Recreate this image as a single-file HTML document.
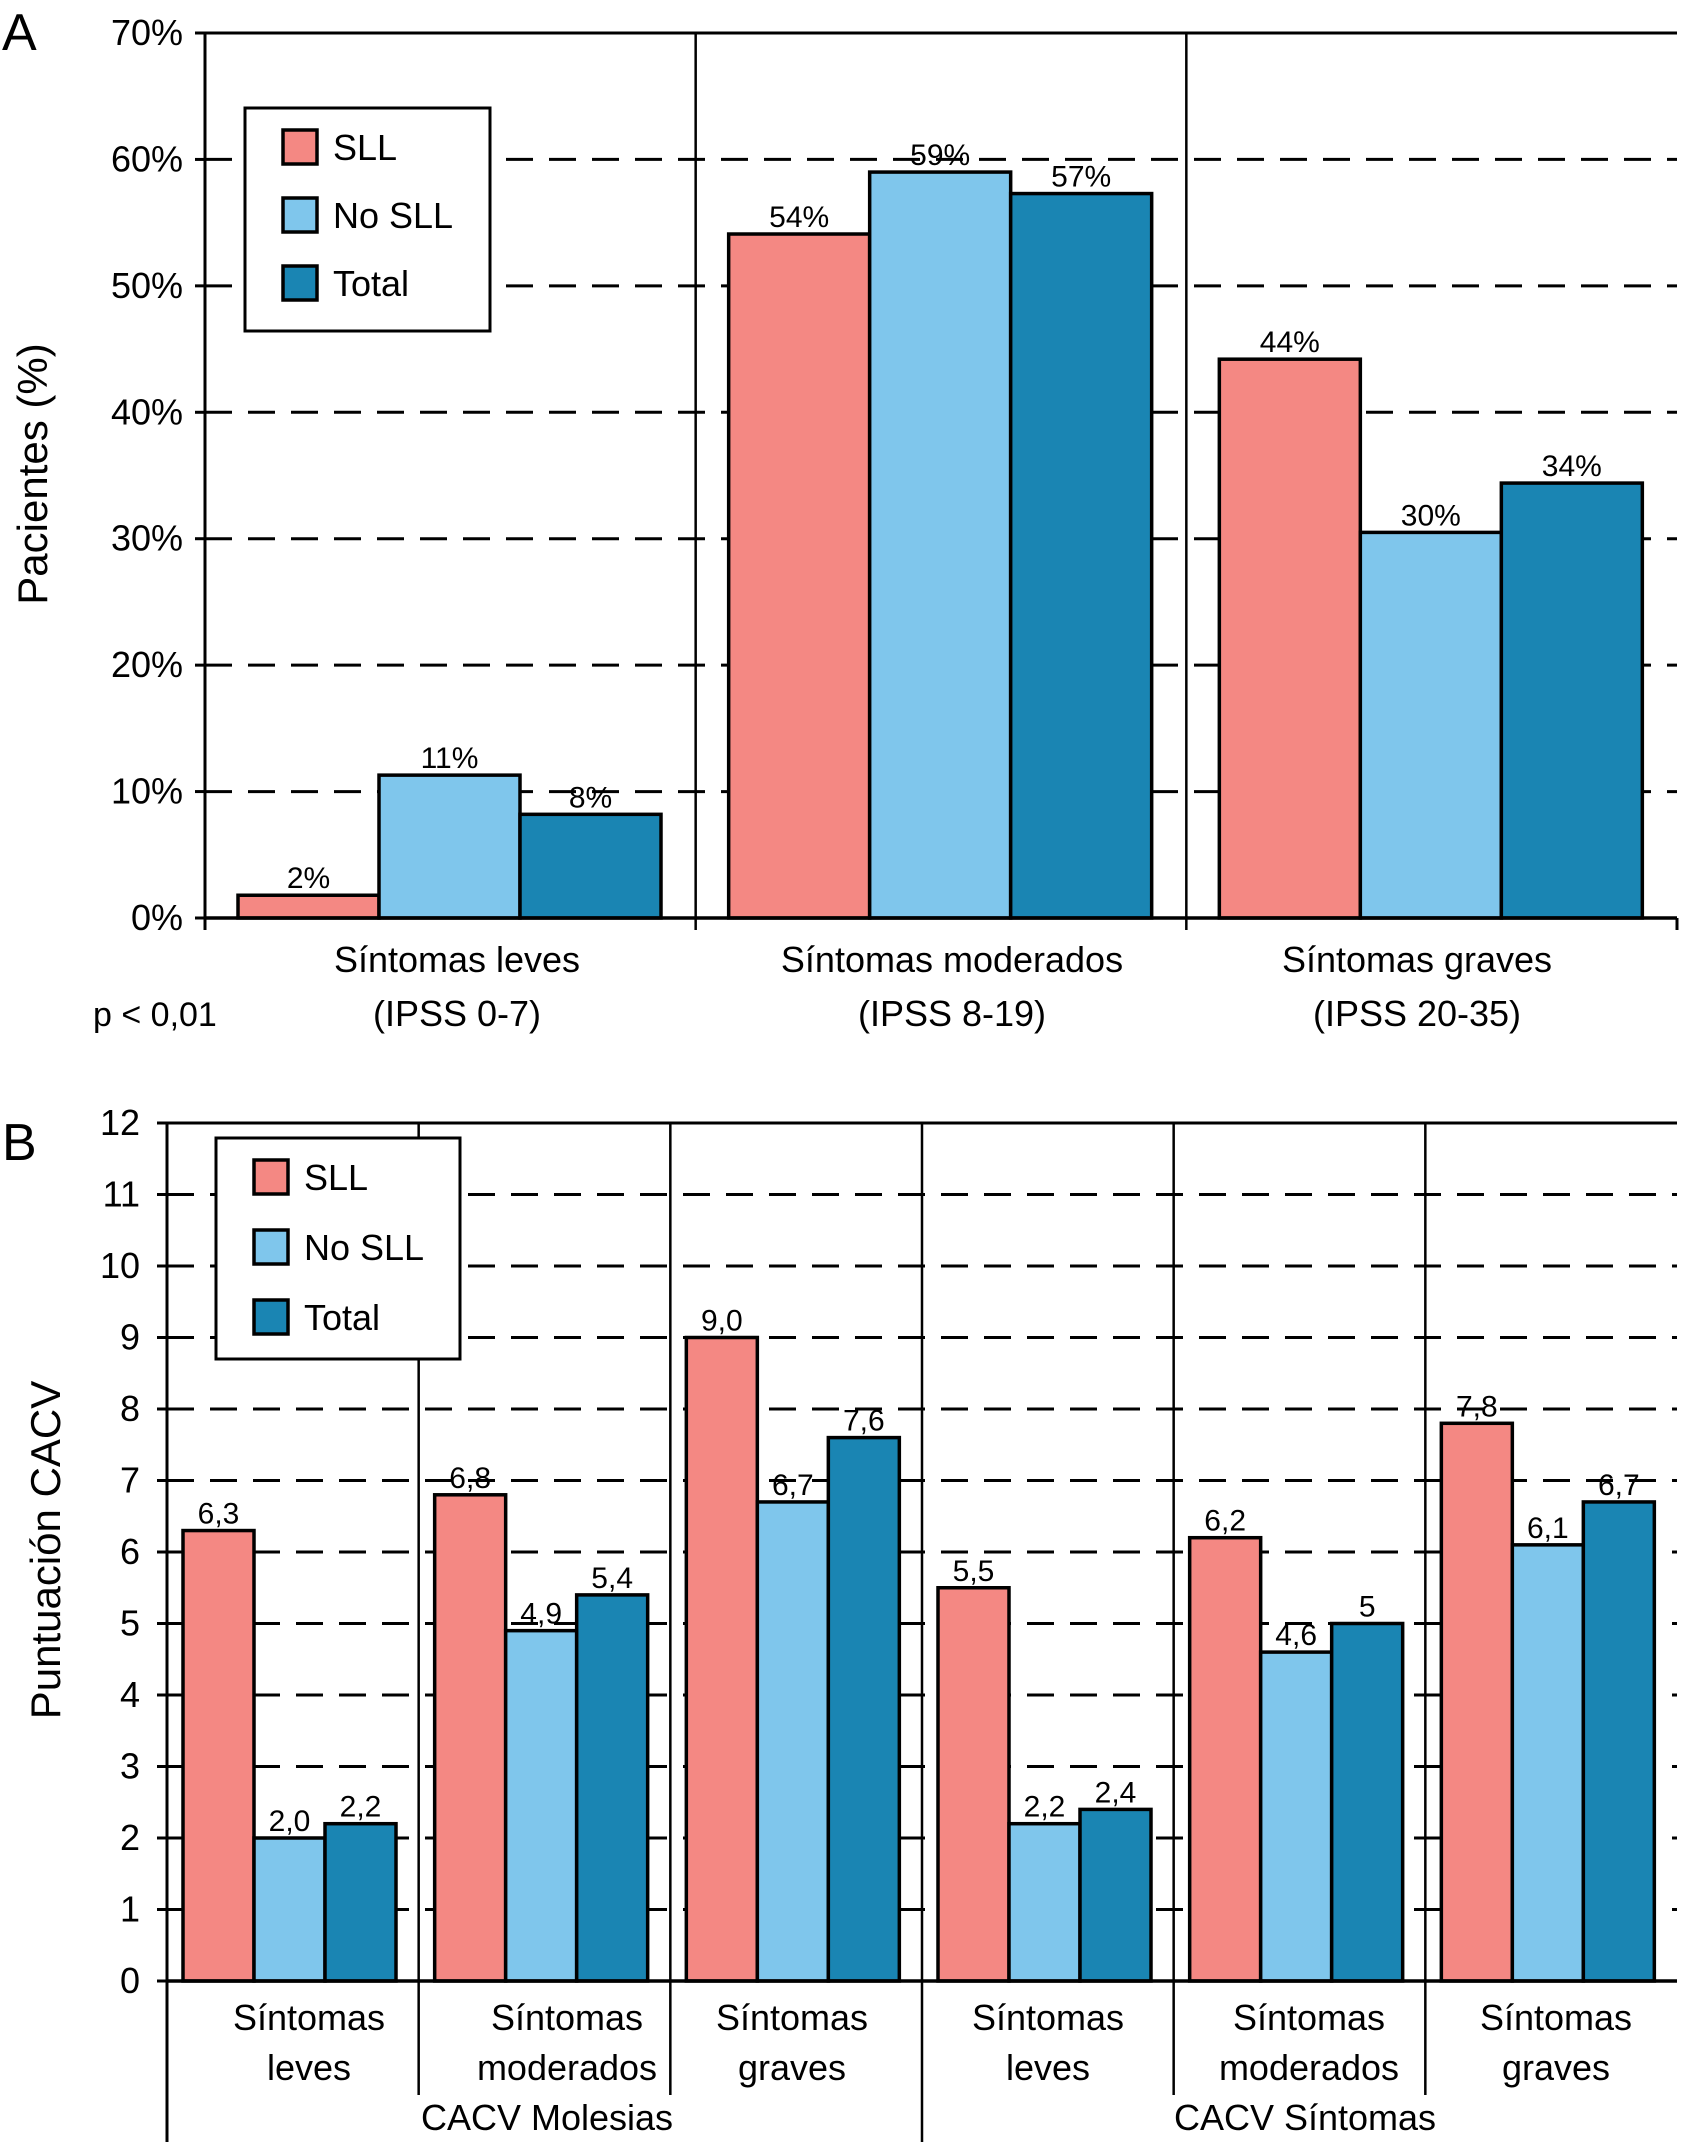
<!DOCTYPE html>
<html><head><meta charset="utf-8"><style>
body{margin:0;background:#fff}
svg{display:block;font-family:"Liberation Sans",sans-serif}
</style></head><body>
<svg id="s" width="1683" height="2142" viewBox="0 0 1683 2142"></svg>
<script>
const seriesNames=["SLL","No SLL","Total"];
const colors=["#f48883","#7fc6ec","#1a85b3"];
const aCats=[["Síntomas leves","(IPSS 0-7)"],["Síntomas moderados","(IPSS 8-19)"],["Síntomas graves","(IPSS 20-35)"]];
const aSLL=[1.8,54.1,44.2];
const aNo=[11.3,59.0,30.5];
const aTot=[8.2,57.3,34.4];
const aLabels=[["2%","11%","8%"],["54%","59%","57%"],["44%","30%","34%"]];
const aTicks=["0%","10%","20%","30%","40%","50%","60%","70%"];
const bCats=[["Síntomas","leves"],["Síntomas","moderados"],["Síntomas","graves"],["Síntomas","leves"],["Síntomas","moderados"],["Síntomas","graves"]];
const bSLL=[6.3,6.8,9.0,5.5,6.2,7.8];
const bNo=[2.0,4.9,6.7,2.2,4.6,6.1];
const bTot=[2.2,5.4,7.6,2.4,5.0,6.7];
const bLabels=[["6,3","2,0","2,2"],["6,8","4,9","5,4"],["9,0","6,7","7,6"],["5,5","2,2","2,4"],["6,2","4,6","5"],["7,8","6,1","6,7"]];
const bTicks=["0","1","2","3","4","5","6","7","8","9","10","11","12"];
const bGroups=["CACV Molesias","CACV Síntomas"];

const svg=document.getElementById('s');
const NS="http://www.w3.org/2000/svg";
function mk(tag,at,txt){const e=document.createElementNS(NS,tag);for(const k in at)e.setAttribute(k,at[k]);if(txt!==undefined)e.textContent=txt;svg.appendChild(e);return e;}

function chart(o){
  const {x0,x1,yTop,yBot,max,step,ticks,series,labels,cats,off,bw,nG}=o;
  const Y=v=>yBot-(v/max)*(yBot-yTop);
  const gw=(x1-x0)/nG;
  for(let i=1;i<ticks.length-1;i++){
    const l=mk('line',{x1:x0,x2:x1,y1:Y(i*step),y2:Y(i*step),stroke:'#000','stroke-width':3,'stroke-dasharray':'27 16'});
    
    
  }
  ticks.forEach((t,i)=>{
    const tx=mk('text',{x:o.tickX,y:Y(i*step)+12,'text-anchor':'end','font-size':o.tickFs},t);
    
    
    mk('line',{x1:x0-10,x2:x0,y1:Y(i*step),y2:Y(i*step),stroke:'#000','stroke-width':3});
  });
  for(let g=0;g<nG;g++){
    const gx=x0+g*gw;
    series.forEach((s,k)=>{
      const bx=gx+off+k*bw, v=s[g];
      const r=mk('rect',{x:bx,y:Y(v),width:bw,height:yBot-Y(v),fill:colors[k],stroke:'#000','stroke-width':3.5});
      
      
      const t=mk('text',{x:bx+bw/2,y:Y(v)-7,'text-anchor':'middle','font-size':o.valFs},labels[g][k]);
      
      
    });
  }
  mk('line',{x1:x0,x2:x1,y1:yTop,y2:yTop,stroke:'#000','stroke-width':3});
  mk('line',{x1:x0,x2:x1,y1:yBot,y2:yBot,stroke:'#000','stroke-width':3.5});
  mk('line',{x1:x0,x2:x0,y1:yTop,y2:o.axisExt,stroke:'#000','stroke-width':3});
  for(let g=1;g<nG;g++){
    const gx=x0+g*gw;
    mk('line',{x1:gx,x2:gx,y1:yTop,y2:(o.divExt?o.divExt(g):yBot+12),stroke:'#000','stroke-width':2.5});
  }
  if(o.rightExt) mk('line',{x1:x1,x2:x1,y1:yBot,y2:o.rightExt,stroke:'#000','stroke-width':3});
  cats.forEach((c,g)=>{
    const cx=(o.catX?o.catX[g]:x0+g*gw+gw/2);
    c.forEach((ln,j)=>{
      const t=mk('text',{x:cx,y:o.catY[j],'text-anchor':'middle','font-size':o.catFs},ln);
      
      
    });
  });
  return Y;
}
function legend(x,y,w,h,fs,sp){
  const b=mk('rect',{x:x,y:y,width:w,height:h,fill:'#fff',stroke:'#000','stroke-width':3});
  
  
  seriesNames.forEach((n,k)=>{
    const yy=y+22+k*sp;
    const r=mk('rect',{x:x+38,y:yy,width:34,height:34,fill:colors[k],stroke:'#000','stroke-width':3.5});
    
    
    const t=mk('text',{x:x+88,y:yy+30,'font-size':fs},n);
    
    
  });
}

chart({x0:205,x1:1677,yTop:33,yBot:918,max:70,step:10,ticks:aTicks,series:[aSLL,aNo,aTot],labels:aLabels,cats:aCats,off:33,bw:141,nG:3,tickX:183,tickFs:36,valFs:30,catFs:36,catY:[972,1026],axisExt:930,rightExt:930,catX:[457,952,1417]});
legend(245,108,245,223,36,68);
let t;
t=mk('text',{x:2,y:50,'font-size':52},'A');
t=mk('text',{x:93,y:1026,'font-size':34},'p < 0,01');
t=mk('text',{x:0,y:0,'font-size':42,'text-anchor':'middle',transform:'translate(47,474) rotate(-90)'},'Pacientes (%)');

chart({x0:167,x1:1677,yTop:1123,yBot:1981,max:12,step:1,ticks:bTicks,series:[bSLL,bNo,bTot],labels:bLabels,cats:bCats,off:16,bw:71,nG:6,tickX:140,tickFs:36,valFs:30,catFs:36,catY:[2030,2080],axisExt:2142,divExt:g=>g===3?2142:2095,catX:[309,567,792,1048,1309,1556]});
legend(216,1138,244,221,36,70);
t=mk('text',{x:2,y:1160,'font-size':52},'B');
t=mk('text',{x:0,y:0,'font-size':42,'text-anchor':'middle',transform:'translate(60,1550) rotate(-90)'},'Puntuación CACV');
[[547,bGroups[0]],[1305,bGroups[1]]].forEach(([x,s])=>{t=mk('text',{x:x,y:2130,'text-anchor':'middle','font-size':36},s);});
</script>
</body></html>
